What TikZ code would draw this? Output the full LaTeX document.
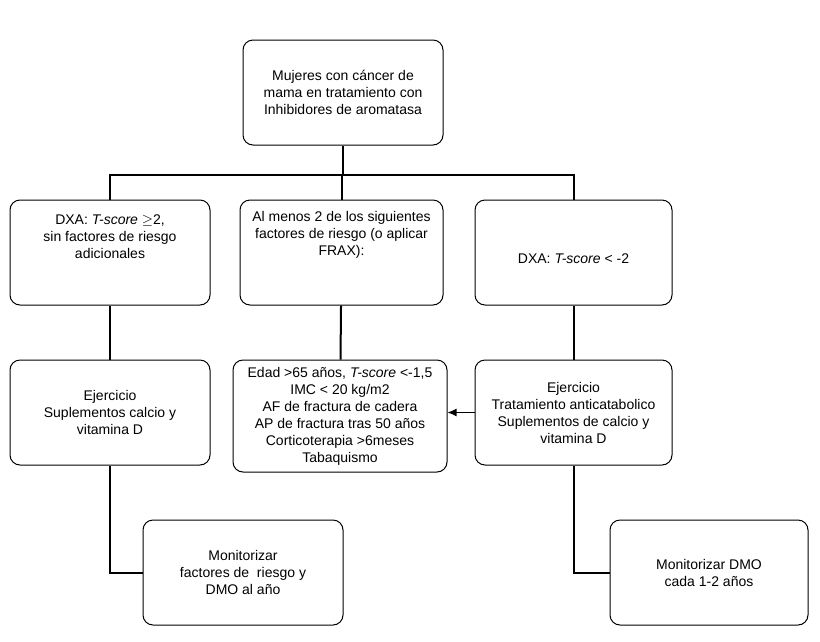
\documentclass[tikz,border=0pt]{standalone}
\usepackage{fontspec}
\setmainfont{Liberation Sans}
\usetikzlibrary{arrows.meta}
\begin{document}
\begin{tikzpicture}[x=1pt,y=-1pt,
 box/.style={draw,line width=1pt,rounded corners=10pt,align=center,font=\fontsize{14}{17}\selectfont,inner sep=0pt},
 ln/.style={line width=2pt}]
\useasboundingbox (0,0) rectangle (820,641);
\newcommand{\bx}[6]{\node[box,minimum width=#4-#2,minimum height=#5-#3] (#1) at ({(#2+#4)/2},{(#3+#5)/2}) {#6};}
\bx{top}{243}{40}{443}{145}{Mujeres con cáncer de\\mama en tratamiento con\\Inhibidores de aromatasa}
\bx{a}{10}{200}{210}{305}{DXA: \textit{T-score} $\geq$2,\\sin factores de riesgo\\adicionales\\[14pt]}
\bx{b}{240}{200}{443}{305}{Al menos 2 de los siguientes\\factores de riesgo (o aplicar\\FRAX):\\[22pt]}
\bx{c}{475}{200}{672}{305}{\\[6pt]DXA: \textit{T-score} < -2}
\bx{d}{10}{360}{210}{465}{Ejercicio\\Suplementos calcio y\\vitamina D}
\bx{e}{233}{360}{447}{472}{Edad >65 años, \textit{T-score} <-1,5\\IMC < 20 kg/m2\\AF de fractura de cadera\\AP de fractura tras 50 años\\Corticoterapia >6meses\\Tabaquismo}
\bx{f}{475}{360}{672}{465}{Ejercicio\\Tratamiento anticatabolico\\Suplementos de calcio y\\vitamina D}
\bx{g}{143}{520}{343}{625}{Monitorizar\\factores de \ riesgo y\\DMO al año}
\bx{h}{610}{520}{808}{625}{Monitorizar DMO\\cada 1-2 años}
\coordinate (j) at (top.south |- 0,175);
\draw[ln] (top.south) -- (j);
\draw[ln] (a.north) |- (j) -| (c.north);
\draw[ln] (j) -- (j -| b.north) -- (b.north);
\draw[ln] (a) -- (d); \draw[ln] (b) -- (e); \draw[ln] (c) -- (f);
\draw[ln] (d.south) |- (g.west);
\draw[ln] (f.south) |- (h.west);
\draw[line width=1.2pt,-{Latex[length=9pt,width=8pt]}] (f.west) -- (e.east |- f.west);
\end{tikzpicture}
\end{document}
